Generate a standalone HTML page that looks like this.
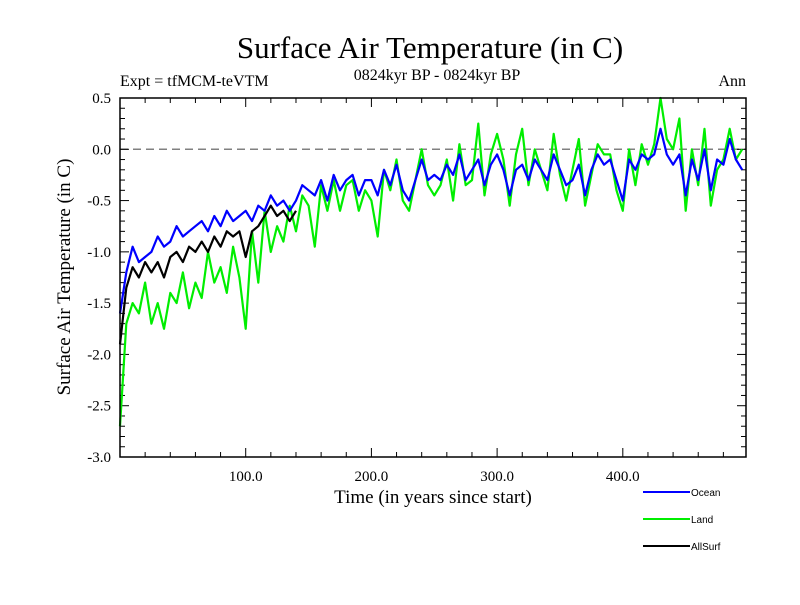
<!DOCTYPE html>
<html><head><meta charset="utf-8"><style>
body{margin:0;background:#fff;}
svg text{font-family:"Liberation Serif",serif;fill:#000;}
</style></head><body>
<svg id="chart" width="800" height="600" xmlns="http://www.w3.org/2000/svg">
<rect width="800" height="600" fill="#fff"/>
<text x="430" y="58" font-size="31" text-anchor="middle">Surface Air Temperature (in C)</text>
<text x="120" y="86" font-size="16">Expt = tfMCM-teVTM</text>
<text x="437" y="80" font-size="16" text-anchor="middle">0824kyr BP - 0824kyr BP</text>
<text x="746" y="86" font-size="16" text-anchor="end">Ann</text>
<text transform="translate(70,277) rotate(-90)" font-size="19" text-anchor="middle">Surface Air Temperature (in C)</text>
<text x="433" y="503" font-size="19" text-anchor="middle">Time (in years since start)</text>
<g id="plot"></g>
<g id="legend"></g>
</svg>
<script>
const years = [];
for (let y = 0; y <= 495; y += 5) years.push(y);
const ocean = [-1.6,-1.2,-0.95,-1.1,-1.05,-1.0,-0.85,-0.95,-0.9,-0.75,-0.85,-0.8,-0.75,-0.7,-0.8,-0.65,-0.75,-0.6,-0.7,-0.65,
-0.6,-0.7,-0.55,-0.6,-0.45,-0.55,-0.5,-0.6,-0.5,-0.35,-0.4,-0.45,-0.3,-0.5,-0.25,-0.4,-0.3,-0.25,-0.45,-0.3,
-0.3,-0.45,-0.2,-0.35,-0.15,-0.4,-0.5,-0.3,-0.1,-0.3,-0.25,-0.3,-0.15,-0.25,-0.05,-0.3,-0.2,-0.1,-0.35,-0.15,
-0.05,-0.2,-0.45,-0.2,-0.15,-0.3,-0.1,-0.2,-0.3,-0.05,-0.2,-0.35,-0.3,-0.15,-0.45,-0.2,-0.05,-0.15,-0.1,-0.3,
-0.5,-0.1,-0.2,-0.05,-0.1,-0.05,0.2,-0.05,-0.15,-0.05,-0.45,-0.1,-0.3,0.0,-0.4,-0.1,-0.15,0.1,-0.1,-0.2];
const land = [-2.7,-1.7,-1.5,-1.6,-1.3,-1.7,-1.5,-1.75,-1.4,-1.5,-1.2,-1.55,-1.3,-1.45,-1.0,-1.3,-1.15,-1.4,-0.95,-1.25,
-1.75,-0.8,-1.3,-0.6,-1.0,-0.75,-0.9,-0.55,-0.8,-0.45,-0.55,-0.95,-0.35,-0.6,-0.3,-0.6,-0.35,-0.3,-0.6,-0.4,
-0.5,-0.85,-0.2,-0.4,-0.1,-0.5,-0.6,-0.3,0.0,-0.35,-0.45,-0.35,-0.1,-0.5,0.05,-0.35,-0.3,0.25,-0.45,-0.05,
0.15,-0.1,-0.55,-0.05,0.2,-0.35,0.0,-0.2,-0.4,0.15,-0.25,-0.5,-0.2,0.1,-0.55,-0.25,0.05,-0.05,-0.05,-0.4,
-0.6,0.0,-0.35,0.05,-0.15,0.05,0.5,0.1,0.0,0.3,-0.6,0.0,-0.35,0.2,-0.55,-0.2,-0.1,0.2,-0.1,0.0];
const allYears = [0,5,10,15,20,25,30,35,40,45,50,55,60,65,70,75,80,85,90,95,100,105,110,115,120,125,130,135,140];
const allSurf = [-1.9,-1.35,-1.15,-1.25,-1.1,-1.2,-1.1,-1.25,-1.05,-1.0,-1.1,-0.95,-1.0,-0.9,-1.0,-0.85,-0.95,-0.8,-0.85,-0.8,-1.05,-0.8,-0.75,-0.65,-0.55,-0.65,-0.6,-0.7,-0.6];
const yTicks = [0.5,0.0,-0.5,-1.0,-1.5,-2.0,-2.5,-3.0];
const xTicks = [100,200,300,400];
const seriesNames = ["Ocean","Land","AllSurf"];

const NS = "http://www.w3.org/2000/svg";
const X0 = 120, X1 = 746, Y0 = 98, Y1 = 457;
const xMin = 0, xMax = 498, yMin = -3.0, yMax = 0.5;
function xs(v){ return X0 + (v - xMin) / (xMax - xMin) * (X1 - X0); }
function ys(v){ return Y1 - (v - yMin) / (yMax - yMin) * (Y1 - Y0); }
function mk(tag, attrs, parent){ const e = document.createElementNS(NS, tag); for (const k in attrs) e.setAttribute(k, attrs[k]); parent.appendChild(e); return e; }
const plot = document.getElementById('plot');

const zl = mk('line', {x1:X0, x2:X1, y1:ys(0), y2:ys(0), stroke:'#808080', 'stroke-width':1.5, 'stroke-dasharray':'8,5'}, plot);



for (let i = 0; i <= 35; i++) {
  const v = yMin + i * 0.1; const y = ys(v);
  const major = i % 5 === 0; const len = major ? 9 : 5;
  mk('line', {x1:X0, x2:X0+len, y1:y, y2:y, stroke:'#000', 'stroke-width':1}, plot);
  mk('line', {x1:X1, x2:X1-len, y1:y, y2:y, stroke:'#000', 'stroke-width':1}, plot);
}
for (let v = 20; v < xMax; v += 20) {
  const x = xs(v); const len = v % 100 === 0 ? 9 : 5;
  mk('line', {x1:x, x2:x, y1:Y1, y2:Y1-len, stroke:'#000', 'stroke-width':1}, plot);
  mk('line', {x1:x, x2:x, y1:Y0, y2:Y0+len, stroke:'#000', 'stroke-width':1}, plot);
}
yTicks.forEach(v => {
  const t = mk('text', {x:X0-9, y:ys(v)+5, 'font-size':15, 'text-anchor':'end'}, plot);
  t.textContent = v.toFixed(1);
  
  
});
xTicks.forEach(v => {
  const t = mk('text', {x:xs(v), y:Y1+24, 'font-size':15, 'text-anchor':'middle'}, plot);
  t.textContent = v.toFixed(1);
  
  
});

function line(xv, yv, color, name){
  const d = xv.map((x,i) => (i ? 'L' : 'M') + xs(x).toFixed(1) + ',' + ys(yv[i]).toFixed(1)).join('');
  const p = mk('path', {d:d, fill:'none', stroke:color, 'stroke-width':2.2, 'stroke-linejoin':'round'}, plot);
  
  
}
line(years, land, '#00ee00', 'land-series');
line(allYears, allSurf, '#000000', 'allsurf-series');
line(years, ocean, '#0000ff', 'ocean-series');

const frame = mk('rect', {x:X0, y:Y0, width:X1-X0, height:Y1-Y0, fill:'none', stroke:'#000', 'stroke-width':1.5}, plot);



const legend = document.getElementById('legend');
const colors = ['#0000ff','#00ee00','#000000'];
seriesNames.forEach((n,i) => {
  const y = 492 + i * 27;
  const l = mk('line', {x1:643, x2:690, y1:y, y2:y, stroke:colors[i], 'stroke-width':2}, legend);
  
  
  const t = mk('text', {x:691, y:y+4, 'font-size':10, style:'font-family:"Liberation Sans",sans-serif'}, legend);
  t.textContent = n;
  
  
});
</script>
</body></html>
